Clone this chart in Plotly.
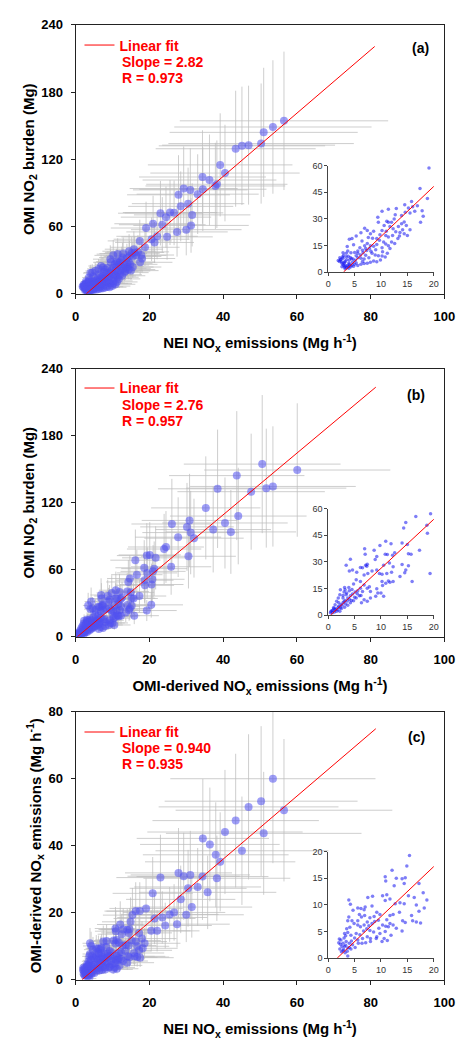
import plotly.graph_objects as go

# ---------------- data ----------------
# Panel (a): NEI NOx emissions (x) vs OMI NO2 burden (y)
a_x = [19.1, 17.4, 18.8, 15.8, 14.5, 15.2, 16.0, 16.9, 17.8, 18.0, 17.5, 16.4, 15.5, 14.6, 13.9, 10.2, 11.4, 12.9,
       12.7, 11.1, 11.4, 12.0, 12.5, 10.6, 11.7, 12.3, 13.3, 13.9, 14.4, 14.8, 15.5, 14.1, 13.6, 12.2, 11.4, 10.9,
       10.2, 9.5, 9.4, 8.6, 8.0, 6.9, 7.4, 6.2, 5.3, 4.5, 4.0, 8.4, 9.2, 9.7, 10.5, 10.9, 11.4, 11.7, 10.2, 9.2,
       8.6, 8.0, 7.4, 6.9, 7.1, 6.5, 6.0, 5.6, 5.0, 4.3, 3.7, 3.4, 2.8, 2.2, 1.9, 2.5, 2.8, 3.1, 3.6, 4.0, 4.6, 5.1,
       5.6, 6.1, 6.6, 7.3, 7.8, 8.3, 8.9, 9.5, 10.2, 10.8, 9.9, 9.2, 8.6, 8.0, 7.4, 6.8, 6.2, 5.6, 5.0, 4.3, 3.9,
       3.2, 2.6, 2.8, 3.4, 4.0, 5.6, 6.2, 6.8, 7.7, 3.1, 13.2, 12.6, 12.0, 13.5, 14.4, 15.0, 10.3, 11.2,
       2.3, 2.6, 3.0, 3.3, 3.5, 4.1, 4.8, 3.9, 4.4, 2.9,
       2.4, 2.7, 3.2, 3.5, 3.8, 4.2, 4.7, 5.3, 2.1, 3.0, 3.8, 4.5, 5.3, 6.5, 7.1, 8.1, 9.0, 3.6, 4.8, 6.4, 7.6,
       9.8, 11.0, 12.8,
       56.5, 53.5, 51.0, 50.3, 46.9, 45.1, 43.4, 40.5, 39.2, 38.3, 37.9, 36.3, 34.4, 34.5, 33.1, 31.1, 29.3, 30.5,
       31.6, 31.3, 30.0, 28.5, 27.9, 27.5, 26.7, 25.6, 24.5, 23.5, 23.0, 24.8, 22.1, 21.0, 21.4, 20.6]
a_y = [58.7, 47.2, 41.5, 39.8, 38.0, 36.1, 36.9, 37.4, 34.6, 31.5, 28.1, 34.3, 33.3, 33.7, 31.9, 34.3, 35.4, 35.9,
       32.4, 28.7, 28.1, 28.1, 30.0, 26.3, 25.7, 24.4, 25.7, 27.2, 28.3, 26.3, 23.9, 23.9, 22.4, 20.6, 19.8, 20.7,
       23.5, 28.1, 30.9, 23.1, 21.7, 24.8, 23.5, 22.2, 20.4, 18.9, 18.5, 19.1, 18.9, 18.0, 17.0, 15.9, 14.8, 13.3,
       13.7, 15.6, 14.6, 14.8, 16.1, 14.8, 13.3, 12.4, 13.7, 11.9, 11.1, 10.9, 11.9, 10.6, 10.9, 8.1, 6.5, 5.9, 4.1,
       2.8, 3.7, 4.4, 5.6, 6.7, 8.1, 9.6, 10.9, 12.2, 13.3, 10.6, 9.6, 9.3, 9.1, 8.5, 6.9, 5.9, 6.3, 5.6, 5.0, 4.8,
       4.4, 3.7, 4.4, 3.1, 2.2, 1.9, 3.1, 7.8, 8.7, 6.9, 10.6, 7.8, 7.4, 8.1, 5.6, 18.9, 16.1, 17.0, 20.4, 21.7,
       20.7, 11.5, 10.6,
       6.8, 5.0, 4.8, 3.5, 2.4, 3.6, 3.3, 5.2, 7.6, 9.4,
       7.2, 8.5, 6.1, 7.0, 9.0, 8.2, 7.4, 9.3, 6.0, 3.6, 3.0, 4.0, 5.2, 6.0, 9.5, 11.8, 12.6, 14.5, 15.5, 17.5, 19.5,
       21.0, 23.0, 22.8,
       154.3, 148.8, 144.0, 134.0, 132.6, 132.0, 129.4, 107.7, 115.0, 97.7, 96.2, 101.5, 104.2, 93.3, 88.9, 92.7,
       93.9, 80.4, 70.4, 61.0, 57.2, 78.0, 88.3, 55.2, 72.2, 72.5, 68.4, 61.6, 71.9, 50.8, 51.3, 62.5, 45.8, 48.7]

# Panel (b): OMI-derived NOx emissions (x) vs OMI NO2 burden (y)
b_x = [19.4, 16.6, 14.7, 14.3, 18.7, 18.8, 15.0, 17.3, 14.0, 15.2, 15.7, 12.6, 12.2, 11.9, 10.9, 9.8, 10.8, 11.2,
       9.2, 8.7, 8.9, 6.9, 7.0, 7.1, 7.3, 7.4, 6.5, 6.1, 4.2, 3.4, 4.0, 4.6, 5.4, 6.8, 7.5, 8.3, 9.2, 9.7, 10.2,
       11.1, 12.0, 12.3, 11.6, 10.5, 14.0, 14.7, 14.5, 15.2, 19.3, 15.9, 13.6, 12.3, 11.7, 11.4, 10.2, 10.9, 10.3,
       9.2, 9.0, 8.0, 7.4, 6.8, 6.1, 5.3, 4.8, 3.9, 3.2, 3.0, 2.3, 2.2, 1.9, 1.6, 1.3, 1.0, 0.7, 0.4, 0.8, 1.3,
       1.9, 2.4, 2.8, 3.2, 3.7, 4.2, 4.6, 5.1, 5.6, 6.1, 6.5, 5.9, 5.3, 4.8, 4.2, 3.7, 3.1, 2.5, 2.2, 1.6, 3.4,
       6.8, 7.4, 6.3, 8.0, 9.4, 10.0, 10.5, 2.8, 3.1, 4.0,
       0.5, 0.9, 1.2, 1.5, 1.8, 2.0, 2.3, 2.6, 3.0, 3.3, 3.6, 4.0, 4.4, 1.1, 2.0, 2.8, 3.5, 5.0, 5.5, 6.2, 4.5, 7.8,
       60.1, 50.6, 53.5, 51.7, 47.6, 43.7, 44.1, 42.1, 40.5, 38.5, 37.3, 35.3, 30.9, 30.2, 31.2, 32.1, 30.6, 27.8,
       26.1, 24.5, 24.0, 25.9, 21.7, 20.1, 19.3, 18.6, 16.2, 21.3, 21.0, 20.6, 20.5, 20.8]
b_y = [57.2, 55.6, 52.2, 49.1, 50.7, 46.1, 39.8, 36.5, 40.6, 34.6, 34.3, 35.2, 33.7, 40.2, 41.7, 39.3, 34.3, 34.1,
       33.1, 36.5, 31.3, 37.4, 34.3, 28.1, 27.6, 28.7, 26.7, 26.9, 31.5, 28.1, 24.8, 25.4, 24.1, 22.6, 23.5, 24.8,
       25.4, 23.5, 23.1, 23.5, 24.1, 27.2, 29.4, 28.1, 28.5, 25.4, 23.9, 27.8, 23.5, 18.9, 21.7, 18.9, 18.5, 19.3,
       18.9, 18.0, 16.7, 14.8, 10.6, 13.3, 15.2, 17.0, 18.9, 20.0, 17.6, 15.6, 14.3, 13.0, 14.3, 11.5, 9.6, 7.8,
       5.9, 4.1, 2.6, 1.3, 1.3, 3.1, 4.4, 5.9, 6.9, 8.3, 9.6, 10.9, 11.9, 13.0, 13.7, 15.2, 13.3, 10.9, 9.6, 8.1,
       6.9, 5.6, 4.4, 3.7, 2.2, 2.2, 11.5, 8.7, 7.8, 6.9, 9.6, 12.4, 12.4, 10.6, 9.6, 15.6, 13.7,
       2.0, 2.8, 1.8, 3.5, 3.0, 5.0, 4.2, 5.6, 7.5, 6.2, 8.0, 9.0, 8.3, 3.9, 7.0, 11.0, 12.5, 10.0, 12.0, 11.0,
       14.5, 16.0,
       149.3, 154.6, 134.6, 133.1, 129.9, 144.3, 108.1, 93.9, 101.9, 132.5, 96.0, 115.4, 104.2, 98.4, 93.3, 88.3,
       72.1, 89.2, 101.0, 80.4, 78.6, 62.7, 70.7, 73.3, 72.7, 61.8, 68.6, 61.0, 58.6, 46.8, 28.6, 51.5]

# Panel (c): NEI NOx emissions (x) vs OMI-derived NOx emissions (y)
c_x = [15.4, 14.9, 12.1, 14.6, 10.8, 10.9, 12.9, 14.0, 12.5, 14.4, 17.2, 18.0, 15.2, 16.3, 18.7, 18.2, 16.7, 14.4,
       13.6, 12.7, 11.7, 10.8, 10.3, 11.1, 8.4, 7.5, 3.9, 4.2, 5.6, 6.2, 6.8, 7.0, 8.3, 9.2, 9.8, 8.7, 7.9, 6.9,
       6.3, 5.6, 4.5, 3.9, 3.7, 4.9, 5.6, 6.1, 6.8, 7.3, 7.9, 8.6, 9.2, 9.8, 10.3, 10.9, 11.7, 11.4, 12.3, 12.9,
       14.0, 14.6, 16.0, 16.7, 17.5, 14.1, 10.6, 11.2, 10.2, 9.1, 8.0, 7.4, 6.5, 5.6, 5.0, 4.3, 3.7, 3.1, 2.4,
       2.0, 2.8, 3.4, 4.0, 4.6, 3.1, 3.7, 2.8, 3.2, 3.7, 4.3, 5.1, 5.7, 6.4, 7.1, 8.0, 2.2, 2.5, 12.3, 13.5, 11.7,
       11.1, 9.5, 8.3, 7.4, 15.8, 17.2,
       2.6, 2.9, 3.3, 3.6, 4.0, 4.4, 3.0, 2.3, 2.1, 3.5, 4.1, 5.3, 6.0, 6.7, 7.7, 8.8, 9.6, 10.8, 11.9, 4.7, 5.9,
       3.3,
       53.5, 56.5, 50.3, 51.0, 46.9, 43.4, 40.5, 45.1, 39.2, 38.0, 38.3, 36.4, 34.5, 34.4, 33.1, 35.8, 31.1, 29.3,
       27.9, 30.5, 28.5, 31.5, 30.0, 27.5, 26.7, 25.5, 23.5, 24.3, 23.0, 22.1, 20.9, 20.5, 21.4, 19.1, 17.4, 16.3]
c_y = [19.3, 17.3, 16.5, 15.1, 15.3, 14.5, 15.0, 14.9, 13.6, 14.0, 14.0, 12.3, 11.7, 11.4, 10.9, 9.4, 10.0, 10.2,
       10.4, 10.2, 11.1, 10.8, 11.7, 11.9, 11.6, 11.4, 10.9, 10.1, 9.4, 9.3, 9.1, 9.6, 9.8, 8.6, 8.2, 7.8, 7.6, 8.0,
       7.7, 7.0, 7.0, 7.7, 7.0, 6.5, 6.2, 5.9, 6.2, 5.5, 5.2, 4.9, 4.0, 4.6, 6.2, 6.0, 6.5, 5.9, 6.2, 5.6, 5.1, 6.7,
       7.0, 6.8, 6.6, 7.0, 3.7, 3.3, 3.1, 3.7, 3.7, 4.0, 3.7, 3.4, 3.8, 4.3, 4.8, 4.6, 3.4, 2.9, 2.8, 3.1, 2.8,
       2.5, 2.2, 1.9, 1.4, 1.0, 0.4, 1.7, 2.0, 2.8, 2.8, 2.9, 3.1, 1.7, 1.2, 8.2, 8.6, 8.0, 7.2, 7.1, 6.5, 6.8, 8.0,
       8.8,
       2.2, 1.6, 2.4, 1.3, 2.0, 3.2, 3.8, 2.6, 3.6, 5.5, 5.8, 4.6, 4.4, 5.1, 6.1, 6.9, 5.6, 5.0, 4.3, 9.0, 8.2, 4.2,
       60.0, 50.6, 53.3, 43.7, 51.6, 47.5, 44.1, 38.5, 35.2, 37.3, 30.3, 40.4, 42.2, 30.8, 27.7, 26.1, 31.3, 30.9,
       31.9, 27.3, 24.0, 21.7, 19.4, 16.6, 20.1, 19.5, 18.6, 16.2, 30.5, 14.6, 25.8, 14.6, 18.3, 21.3, 20.5, 20.5]

# relative uncertainties (%) of each panel: (x, y)
err_pct = {"a": (50, 40), "b": (42, 40), "c": (52, 42)}

# linear fits: slope, intercept, x-range, R
fits = {"a": (2.82, -8.1, 2.9, 81.1, "0.973"),
        "b": (2.76, -1.2, 0.45, 81.4, "0.957"),
        "c": (0.940, -1.6, 1.7, 81.4, "0.935")}
slope_txt = {"a": "2.82", "b": "2.76", "c": "0.940"}

x_titles = {"a": "NEI NO<sub>x</sub> emissions (Mg h<sup>-1</sup>)",
            "b": "OMI-derived NO<sub>x</sub> emissions (Mg h<sup>-1</sup>)",
            "c": "NEI NO<sub>x</sub> emissions (Mg h<sup>-1</sup>)"}
y_titles = {"a": "OMI NO<sub>2</sub> burden (Mg)",
            "b": "OMI NO<sub>2</sub> burden (Mg)",
            "c": "OMI-derived NO<sub>x</sub> emissions (Mg h<sup>-1</sup>)"}
y_max = {"a": 240, "b": 240, "c": 80}
y_dtick = {"a": 60, "b": 60, "c": 20}
inset_ymax = {"a": 60, "b": 60, "c": 20}
inset_dtick = {"a": 15, "b": 15, "c": 5}

data = {"a": (a_x, a_y), "b": (b_x, b_y), "c": (c_x, c_y)}

# ---------------- layout geometry (pixels) ----------------
W, H = 467, 1042
FONT = "Liberation Sans, Arial, sans-serif"
main_x = (74, 455)
main_y = {"a": (18, 291), "b": (367, 639), "c": (715, 987)}
ins_x = (335, 444)
ins_y = {"a": (161, 269), "b": (509, 617), "c": (857, 965)}
leg_y = {"a": (39, 56, 72), "b": (387, 404, 420), "c": (736, 752, 768)}
lab_pos = {"a": (430, 42), "b": (426, 394), "c": (426, 741)}


def px_x(p):
    return p / W


def px_y(p):
    return 1 - p / H


fig = go.Figure()
layout = dict(width=W, height=H, margin=dict(l=0, r=0, t=0, b=0),
              paper_bgcolor="white", plot_bgcolor="white",
              font=dict(family=FONT, color="black"), annotations=[])

BLUE_MAIN = "rgba(80,80,240,0.55)"
BLUE_INS = "rgba(20,20,240,0.55)"
GRAY = "rgba(190,190,190,0.75)"
RED = "#ff0000"

for i, k in enumerate(["a", "b", "c"]):
    xs, ys = data[k]
    mi = 2 * i + 1
    ii = 2 * i + 2
    mx = "x" if mi == 1 else f"x{mi}"
    my = "y" if mi == 1 else f"y{mi}"
    ix, iy = f"x{ii}", f"y{ii}"
    ex, ey = err_pct[k]
    slope, icpt, fx0, fx1, rval = fits[k]
    leg = "legend" if i == 0 else f"legend{i + 1}"

    # main scatter with error bars
    fig.add_trace(go.Scatter(
        x=xs, y=ys, mode="markers", xaxis=mx, yaxis=my, showlegend=False,
        marker=dict(size=8, color=BLUE_MAIN, line=dict(width=0)),
        error_x=dict(type="percent", value=ex, color=GRAY, thickness=1, width=0),
        error_y=dict(type="percent", value=ey, color=GRAY, thickness=1, width=0)))
    fit_x = [fx0, fx1]
    fit_y = [slope * v + icpt for v in fit_x]
    fig.add_trace(go.Scatter(
        x=fit_x, y=fit_y, mode="lines", xaxis=mx, yaxis=my, name="Linear fit",
        legend=leg, showlegend=True, line=dict(color=RED, width=1)))

    # inset
    sx = [x for x, y in zip(xs, ys) if x <= 20 and y <= inset_ymax[k]]
    sy = [y for x, y in zip(xs, ys) if x <= 20 and y <= inset_ymax[k]]
    fig.add_trace(go.Scatter(
        x=sx, y=sy, mode="markers", xaxis=ix, yaxis=iy, showlegend=False,
        marker=dict(size=3.5, color=BLUE_INS, line=dict(width=0))))
    fig.add_trace(go.Scatter(
        x=fit_x, y=fit_y, mode="lines", xaxis=ix, yaxis=iy, showlegend=False,
        line=dict(color=RED, width=1)))

    key_mx = "xaxis" if mi == 1 else f"xaxis{mi}"
    key_my = "yaxis" if mi == 1 else f"yaxis{mi}"
    y0, y1 = main_y[k]
    layout[key_mx] = dict(
        domain=[px_x(main_x[0]), px_x(main_x[1])], anchor=my, range=[0, 100],
        tickvals=[0, 20, 40, 60, 80, 100], showline=True, linecolor="#222", linewidth=1,
        mirror=True, ticks="outside", ticklen=4, tickcolor="#222", showgrid=False, zeroline=False,
        ticklabelstandoff=7,
        tickfont=dict(size=13, weight="bold", family=FONT),
        title=dict(text=x_titles[k], font=dict(size=15, weight="bold", family=FONT), standoff=14))
    layout[key_my] = dict(
        domain=[px_y(y1), px_y(y0)], anchor=mx, range=[0, y_max[k]], dtick=y_dtick[k],
        showline=True, linecolor="#222", linewidth=1, mirror=True, ticks="outside", ticklen=4,
        tickcolor="#222", showgrid=False, zeroline=False, ticklabelstandoff=5,
        tickfont=dict(size=13, weight="bold", family=FONT),
        title=dict(text=y_titles[k], font=dict(size=15, weight="bold", family=FONT), standoff=3))

    iy0, iy1 = ins_y[k]
    layout[f"xaxis{ii}"] = dict(
        domain=[px_x(ins_x[0]), px_x(ins_x[1])], anchor=iy, range=[0, 20], dtick=5,
        showline=True, linecolor="#444", linewidth=1, ticks="outside", ticklen=3, tickcolor="#444",
        showgrid=False, zeroline=False, tickfont=dict(size=9, color="#333", family=FONT))
    layout[f"yaxis{ii}"] = dict(
        domain=[px_y(iy1), px_y(iy0)], anchor=ix, range=[0, inset_ymax[k]], dtick=inset_dtick[k],
        showline=True, linecolor="#444", linewidth=1, ticks="outside", ticklen=3, tickcolor="#444",
        showgrid=False, zeroline=False, tickfont=dict(size=9, color="#333", family=FONT))

    ly, sy_, ry = leg_y[k]
    layout[leg] = dict(x=px_x(78), y=px_y(ly), xanchor="left", yanchor="middle",
                       bgcolor="rgba(0,0,0,0)", borderwidth=0,
                       font=dict(size=14, color=RED, weight="bold", family=FONT))
    layout["annotations"].append(dict(
        text=f"Slope = {slope_txt[k]}",
        x=px_x(120), y=px_y(sy_), xref="paper", yref="paper", xanchor="left", yanchor="middle",
        showarrow=False, font=dict(size=14, color=RED, weight="bold", family=FONT)))
    layout["annotations"].append(dict(
        text=f"R = {rval}", x=px_x(120), y=px_y(ry), xref="paper", yref="paper",
        xanchor="left", yanchor="middle", showarrow=False,
        font=dict(size=14, color=RED, weight="bold", family=FONT)))
    lx, lyy = lab_pos[k]
    layout["annotations"].append(dict(
        text=f"({k})", x=px_x(lx), y=px_y(lyy), xref="paper", yref="paper",
        xanchor="center", yanchor="middle", showarrow=False,
        font=dict(size=14, color="black", weight="bold", family=FONT)))

fig.update_layout(**layout)
fig.write_html("out.html", config={"displayModeBar": False},
               post_script="document.body.style.margin='0px';")
